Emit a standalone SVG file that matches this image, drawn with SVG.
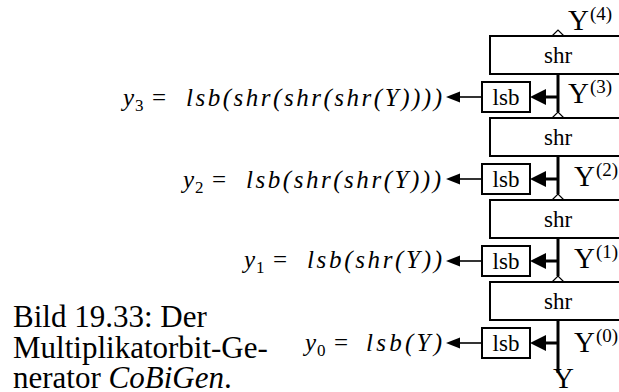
<svg xmlns="http://www.w3.org/2000/svg" width="619" height="392" viewBox="0 0 619 392">
<style>
.box{fill:#fff;stroke:#000;stroke-width:2}
.lbl{font-family:"Liberation Serif","Times New Roman",serif;font-size:23px;text-anchor:middle;fill:#000}
.big{font-family:"Liberation Serif","Times New Roman",serif;font-size:29px;fill:#000}
.sup{font-family:"Liberation Serif","Times New Roman",serif;font-size:19px;fill:#000}
.f{font-family:"Liberation Serif","Times New Roman",serif;font-size:25px;fill:#000}
.sub{font-family:"Liberation Serif","Times New Roman",serif;font-size:17px;fill:#000}
.i{font-style:italic}
.cap{font-family:"Liberation Serif","Times New Roman",serif;font-size:31px;fill:#000}
.thick{stroke:#000;stroke-width:3;fill:none}
.thin{stroke:#000;stroke-width:1.6;fill:none}
.open{fill:#fff;stroke:#000;stroke-width:1.2}
.solid{fill:#000;stroke:none}
</style>
<g id="connectors">
  <line class="thick" x1="558" y1="74" x2="558" y2="112"/>
  <line class="thick" x1="558" y1="156" x2="558" y2="194"/>
  <line class="thick" x1="558" y1="238" x2="558" y2="276"/>
  <line class="thick" x1="558" y1="320" x2="558" y2="373"/>
  <polygon class="open" points="552,36 564,36 558,30"/>
  <polygon class="open" points="552,74 564,74 558,68"/>
  <polygon class="open" points="552,118 564,118 558,112"/>
  <polygon class="open" points="552,156 564,156 558,150"/>
  <polygon class="open" points="552,200 564,200 558,194"/>
  <polygon class="open" points="552,238 564,238 558,232"/>
  <polygon class="open" points="552,282 564,282 558,276"/>
  <polygon class="open" points="552,320 564,320 558,314"/>
  <line class="thick" x1="558" y1="97" x2="544" y2="97"/>
  <polygon class="solid" points="530,97 546,89 546,105"/>
  <line class="thick" x1="558" y1="179" x2="544" y2="179"/>
  <polygon class="solid" points="530,179 546,171 546,187"/>
  <line class="thick" x1="558" y1="261" x2="544" y2="261"/>
  <polygon class="solid" points="530,261 546,253 546,269"/>
  <line class="thick" x1="558" y1="343" x2="544" y2="343"/>
  <polygon class="solid" points="530,343 546,335 546,351"/>
  <line class="thin" x1="482" y1="97" x2="458" y2="97"/>
  <polygon class="solid" points="446,97 460,91.5 460,102.5"/>
  <line class="thin" x1="482" y1="179" x2="458" y2="179"/>
  <polygon class="solid" points="446,179 460,173.5 460,184.5"/>
  <line class="thin" x1="482" y1="261" x2="458" y2="261"/>
  <polygon class="solid" points="446,261 460,255.5 460,266.5"/>
  <line class="thin" x1="482" y1="343" x2="458" y2="343"/>
  <polygon class="solid" points="446,343 460,337.5 460,348.5"/>
</g>
<g id="shr4">
  <rect class="box" x="490" y="36" width="136" height="38"/>
  <text class="lbl" x="558" y="63">shr</text>
</g>
<g id="shr3">
  <rect class="box" x="490" y="118" width="136" height="38"/>
  <text class="lbl" x="558" y="145">shr</text>
</g>
<g id="shr2">
  <rect class="box" x="490" y="200" width="136" height="38"/>
  <text class="lbl" x="558" y="227">shr</text>
</g>
<g id="shr1">
  <rect class="box" x="490" y="282" width="136" height="38"/>
  <text class="lbl" x="558" y="309">shr</text>
</g>
<g id="lsb3">
  <rect class="box" x="482" y="82" width="48" height="30"/>
  <text class="lbl" x="506" y="105">lsb</text>
</g>
<g id="lsb2">
  <rect class="box" x="482" y="164" width="48" height="30"/>
  <text class="lbl" x="506" y="187">lsb</text>
</g>
<g id="lsb1">
  <rect class="box" x="482" y="246" width="48" height="30"/>
  <text class="lbl" x="506" y="269">lsb</text>
</g>
<g id="lsb0">
  <rect class="box" x="482" y="328" width="48" height="30"/>
  <text class="lbl" x="506" y="351">lsb</text>
</g>
<g id="signals">
  <text class="big" x="568" y="30">Y</text><text class="sup" x="590" y="20">(4)</text>
  <text class="big" x="568" y="103">Y</text><text class="sup" x="590" y="93">(3)</text>
  <text class="big" x="574" y="186">Y</text><text class="sup" x="596" y="176">(2)</text>
  <text class="big" x="574" y="268">Y</text><text class="sup" x="596" y="258">(1)</text>
  <text class="big" x="574" y="352">Y</text><text class="sup" x="596" y="342">(0)</text>
  <text class="big" x="553" y="388">Y</text>
</g>
<g id="y3">
  <text class="f i" x="123" y="106">y</text><text class="sub" x="135" y="111">3</text>
  <text class="f" x="152" y="106">=</text>
  <text class="f i" x="186" y="106" textLength="256" lengthAdjust="spacing">lsb(shr(shr(shr(Y))))</text>
</g>
<g id="y2">
  <text class="f i" x="183" y="188">y</text><text class="sub" x="195" y="193">2</text>
  <text class="f" x="212" y="188">=</text>
  <text class="f i" x="246" y="188" textLength="195" lengthAdjust="spacing">lsb(shr(shr(Y)))</text>
</g>
<g id="y1">
  <text class="f i" x="244" y="268">y</text><text class="sub" x="256" y="273">1</text>
  <text class="f" x="273" y="268">=</text>
  <text class="f i" x="307" y="268" textLength="135" lengthAdjust="spacing">lsb(shr(Y))</text>
</g>
<g id="y0">
  <text class="f i" x="305" y="351">y</text><text class="sub" x="317" y="356">0</text>
  <text class="f" x="334" y="351">=</text>
  <text class="f i" x="366" y="351" textLength="76" lengthAdjust="spacing">lsb(Y)</text>
</g>
<g id="caption">
  <text class="cap" x="13" y="327">Bild 19.33: Der</text>
  <text class="cap" x="13" y="358">Multiplikatorbit-Ge-</text>
  <text class="cap" x="13" y="388">nerator <tspan class="i">CoBiGen</tspan>.</text>
</g>
</svg>
